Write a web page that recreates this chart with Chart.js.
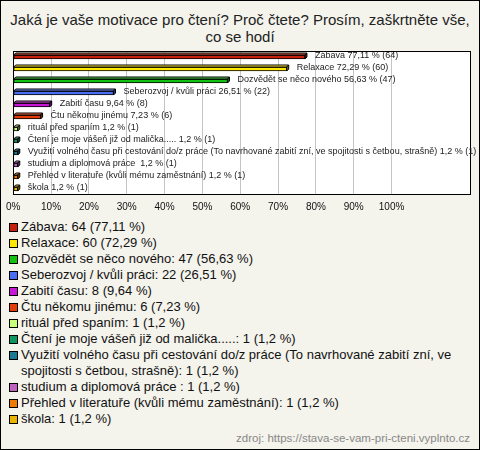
<!DOCTYPE html>
<html>
<head>
<meta charset="utf-8">
<script src="https://cdn.jsdelivr.net/npm/chart.js@4"></script>
<style>
  html, body { margin: 0; padding: 0; background: #fff; }
  #wrap { position: relative; width: 480px; height: 450px; background: #f4f3ec; overflow: hidden; font-family: "Liberation Sans", Arial, sans-serif; }
  #frame { position: absolute; left: 0; top: 0; width: 478px; height: 448px; border: 1px solid #000; pointer-events: none; }
  #title { position: absolute; left: 0; top: 11px; width: 480px; text-align: center; font-size: 15px; line-height: 17px; color: #222; }
  #chartBox { position: absolute; left: 0; top: 0; width: 480px; height: 218px; }
  #legend { position: absolute; left: 8px; top: 219px; width: 464px; margin: 0; padding: 0; list-style: none; font-size: 13px; line-height: 16px; color: #111; }
  #legend li { position: relative; padding-left: 13px; }
  #legend .sw { position: absolute; left: 1px; top: 4px; width: 7px; height: 7px; border: 1px solid #000; }
  #source { position: absolute; right: 10px; top: 432px; font-size: 11.5px; color: #888; }
</style>
</head>
<body>
<div id="wrap">
  <div id="title">Jaká je vaše motivace pro čtení? Proč čtete? Prosím, zaškrtněte vše,<br>co se hodí</div>
  <div id="chartBox"><canvas id="c" width="480" height="218"></canvas></div>
  <ul id="legend"></ul>
  <div id="source">zdroj: https://stava-se-vam-pri-cteni.vyplnto.cz</div>
  <div id="frame"></div>
</div>
<script>
const categories = [
  "Zábava",
  "Relaxace",
  "Dozvědět se něco nového",
  "Seberozvoj / kvůli práci",
  "Zabití času",
  "Čtu někomu jinému",
  "rituál před spaním",
  "Čtení je moje vášeň již od malička.....",
  "Využití volného času při cestování do/z práce (To navrhované zabití zní, ve spojitosti s četbou, strašně)",
  "studium a diplomová práce ",
  "Přehled v literatuře (kvůli mému zaměstnání)",
  "škola"
];
const counts = [64, 60, 47, 22, 8, 6, 1, 1, 1, 1, 1, 1];
const percents = [77.11, 72.29, 56.63, 26.51, 9.64, 7.23, 1.2, 1.2, 1.2, 1.2, 1.2, 1.2];
const colors = ["#c4200c", "#ffe800", "#12c012", "#4a6ef2", "#c818d6", "#e23c0a", "#c8ff7a", "#109462", "#1a7a92", "#c060c0", "#ee7a08", "#e8b400"];
const tickValues = [0, 10, 20, 30, 40, 50, 60, 70, 80, 90, 100];

const fmt = v => String(v).replace('.', ',');

// legend (HTML)
const legend = document.getElementById('legend');
categories.forEach((name, i) => {
  const li = document.createElement('li');
  const sw = document.createElement('span');
  sw.className = 'sw';
  sw.style.background = colors[i];
  li.appendChild(sw);
  li.appendChild(document.createTextNode(name + ': ' + counts[i] + ' (' + fmt(percents[i]) + ' %)'));
  legend.appendChild(li);
});

function shade(hex, f) {
  const n = parseInt(hex.slice(1), 16);
  let r = (n >> 16) & 255, g = (n >> 8) & 255, b = n & 255;
  if (f < 0) { r = Math.round(r * (1 + f)); g = Math.round(g * (1 + f)); b = Math.round(b * (1 + f)); }
  else { r = Math.round(r + (255 - r) * f); g = Math.round(g + (255 - g) * f); b = Math.round(b + (255 - b) * f); }
  return 'rgb(' + r + ',' + g + ',' + b + ')';
}

const areaPlugin = {
  id: 'area',
  beforeDraw(chart) {
    const a = chart.chartArea, ctx = chart.ctx;
    ctx.save();
    ctx.fillStyle = '#ffffff';
    ctx.fillRect(a.left, a.top, a.right - a.left, a.bottom - a.top);
    ctx.restore();
  },
  beforeDatasetsDraw(chart) {
    const a = chart.chartArea, ctx = chart.ctx;
    ctx.save();
    ctx.strokeStyle = '#000';
    ctx.lineWidth = 1;
    ctx.strokeRect(Math.round(a.left) + 0.5, Math.round(a.top) + 0.5, Math.round(a.right - a.left) - 1, Math.round(a.bottom - a.top) - 1);
    ctx.restore();
  }
};

const depthPlugin = {
  id: 'depth',
  afterDatasetsDraw(chart) {
    const ctx = chart.ctx;
    const meta = chart.getDatasetMeta(0);
    const d = 2;
    ctx.save();
    ctx.lineWidth = 1;
    ctx.strokeStyle = '#000';
    meta.data.forEach((bar, i) => {
      const x0 = bar.base, x1 = bar.x;
      const top = bar.y - bar.height / 2, bottom = bar.y + bar.height / 2;
      // top face
      ctx.beginPath();
      ctx.moveTo(x0, top); ctx.lineTo(x0 + d, top - d); ctx.lineTo(x1 + d, top - d); ctx.lineTo(x1, top); ctx.closePath();
      ctx.fillStyle = shade(colors[i], 0.25); ctx.fill(); ctx.stroke();
      // side face
      ctx.beginPath();
      ctx.moveTo(x1, top); ctx.lineTo(x1 + d, top - d); ctx.lineTo(x1 + d, bottom - d); ctx.lineTo(x1, bottom); ctx.closePath();
      ctx.fillStyle = shade(colors[i], -0.45); ctx.fill(); ctx.stroke();
      // label
      ctx.fillStyle = '#222';
      ctx.font = '9px "Liberation Sans", Arial, sans-serif';
      ctx.textBaseline = 'middle';
      ctx.textAlign = 'left';
      ctx.fillText(categories[i] + ' ' + fmt(percents[i]) + ' % (' + counts[i] + ')', x1 + 10, bar.y - 1);
    });
    ctx.restore();
  }
};

new Chart(document.getElementById('c'), {
  type: 'bar',
  data: {
    labels: categories,
    datasets: [{
      data: percents,
      backgroundColor: colors,
      borderColor: '#000',
      borderWidth: 1,
      barThickness: 4,
      borderSkipped: false
    }]
  },
  options: {
    indexAxis: 'y',
    responsive: false,
    animation: false,
    events: [],
    layout: { padding: { top: 51, left: 11, right: 9, bottom: 0 } },
    plugins: { legend: { display: false }, tooltip: { enabled: false }, title: { display: false } },
    scales: {
      y: { display: false, offset: true },
      x: {
        min: 0,
        max: 121,
        afterBuildTicks(axis) { axis.ticks = tickValues.map(v => ({ value: v })); },
        afterFit(axis) { axis.height = 23; },
        ticks: {
          autoSkip: false,
          maxRotation: 0,
          padding: 6,
          color: '#111',
          font: { family: '"Liberation Sans", Arial, sans-serif', size: 10 },
          callback: v => v + '%'
        },
        grid: { color: ctx => (ctx.tick && ctx.tick.value === 0) ? 'rgba(0,0,0,0)' : '#c4c4c4', drawTicks: false },
        border: { display: false }
      }
    }
  },
  plugins: [areaPlugin, depthPlugin]
});
</script>
</body>
</html>
